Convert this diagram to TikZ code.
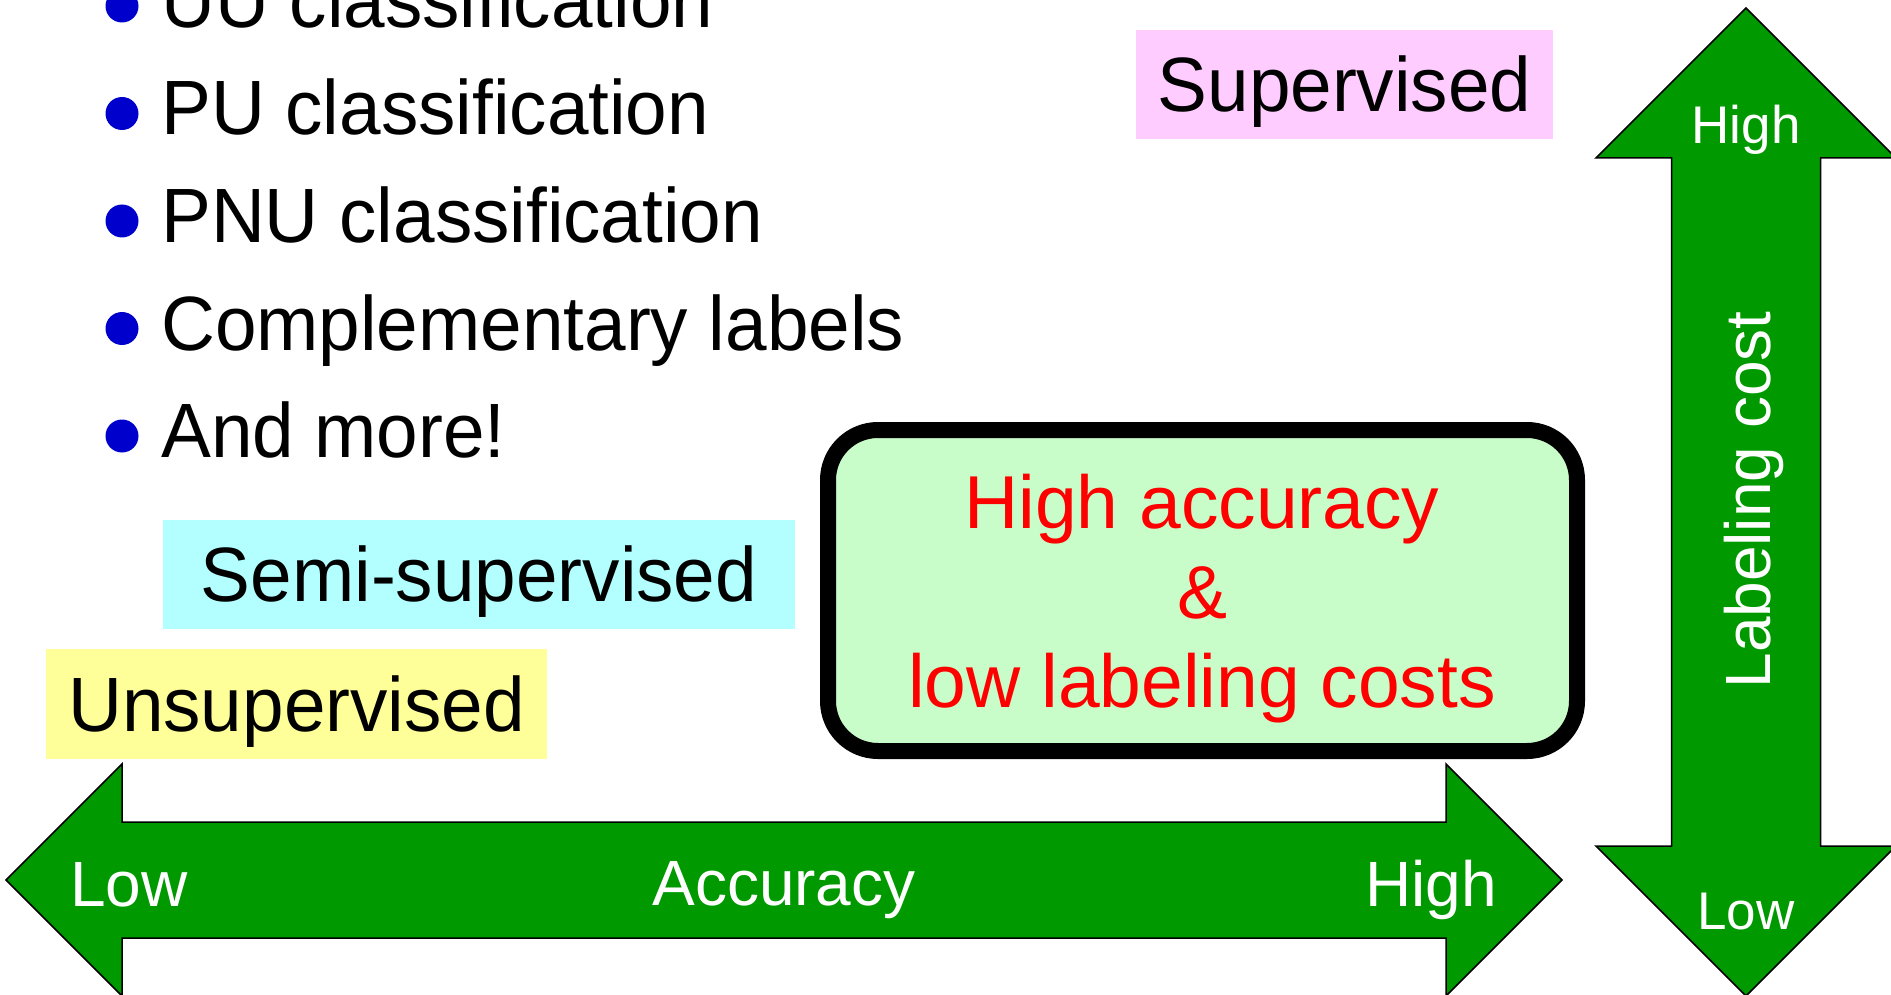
\documentclass[tikz,border=0pt]{standalone}
\usepackage{fontspec}
\setmainfont{Liberation Sans}
\newfontfamily\narrowsans[FakeStretch=0.97]{Liberation Sans}
\definecolor{arrowgreen}{HTML}{009900}
\definecolor{bulletblue}{HTML}{0000CC}
\definecolor{suppink}{HTML}{FFCCFF}
\definecolor{semicyan}{HTML}{B3FFFF}
\definecolor{unsupyellow}{HTML}{FFFF99}
\definecolor{goalgreen}{HTML}{C8FCC8}
\tikzset{
  big/.style={inner sep=0pt, font=\narrowsans\fontsize{77}{92}\selectfont, text height=55pt, text depth=0pt},
  item/.style={big, anchor=base west},
  dot/.style={circle, fill=bulletblue, minimum size=33pt, inner sep=0pt},
  tag/.style={big, minimum height=109pt},
  goal/.style={inner sep=0pt, font=\fontsize{75}{90}\selectfont, text=red, anchor=base},
  goalbox/.style={draw=black, line width=16pt, rounded corners=50pt, fill=goalgreen, inner sep=0pt},
  arrowshape/.style={fill=arrowgreen, draw=black, line width=1.5pt, line join=miter},
  axislabel/.style={inner sep=0pt, font=\fontsize{64}{76}\selectfont, text=white, text height=46pt, text depth=0pt},
  endlabel/.style={inner sep=0pt, font=\fontsize{53}{64}\selectfont, text=white, anchor=base},
}
\begin{document}
\begin{tikzpicture}[x=1pt, y=-1pt]
\useasboundingbox (0,0) rectangle (1891,995);

% bulleted list of weakly supervised settings
\foreach \n/\yc/\txt in {1/6/UU classification, 2/113.5/PU classification,
    3/221/PNU classification, 4/328.5/Complementary labels, 5/436/And more!} {
  \node[dot] (dot\n) at (122,\yc) {};
  \node[item] (item\n) at (161,\yc+21.5) {\txt};
}

% supervision levels
\node[tag, fill=suppink, minimum width=417pt] (sup) at (1344.5,84.5) {Supervised};
\node[tag, fill=semicyan, minimum width=632pt] (semi) at (479,574) {Semi-supervised};
\node[tag, fill=unsupyellow, minimum width=501pt, minimum height=110pt] (unsup) at (296.5,704) {Unsupervised};

% goal box
\node[goalbox, minimum width=749pt, minimum height=321pt] (goal) at (1202.5,590.5) {};
\node[goal] (goal1) at (1202,528) {High accuracy};
\node[goal] (goal2) at (1202,618) {\&};
\node[goal] (goal3) at (1202,707) {low labeling costs};

% accuracy axis
\draw[arrowshape] (6,880) -- (122,764) -- (122,822) -- (1446,822) -- (1446,764)
  -- (1562,880) -- (1446,996) -- (1446,938) -- (122,938) -- (122,996) -- cycle;
\node[axislabel, anchor=base west] (acclow) at (70,906) {Low};
\node[axislabel, anchor=base] (acc) at (784,905) {Accuracy};
\node[axislabel, anchor=base east] (acchigh) at (1497,906) {High};

% labeling cost axis
\draw[arrowshape] (1746,8) -- (1896,158) -- (1820.5,158) -- (1820.5,846) -- (1896,846)
  -- (1746,996) -- (1596,846) -- (1671.5,846) -- (1671.5,158) -- (1596,158) -- cycle;
\node[endlabel] (costhigh) at (1746,144) {High};
\node[endlabel] (costlow) at (1746,929) {Low};
\node[axislabel, rotate=90] (cost) at (1747.5,500) {Labeling cost};
\end{tikzpicture}
\end{document}
